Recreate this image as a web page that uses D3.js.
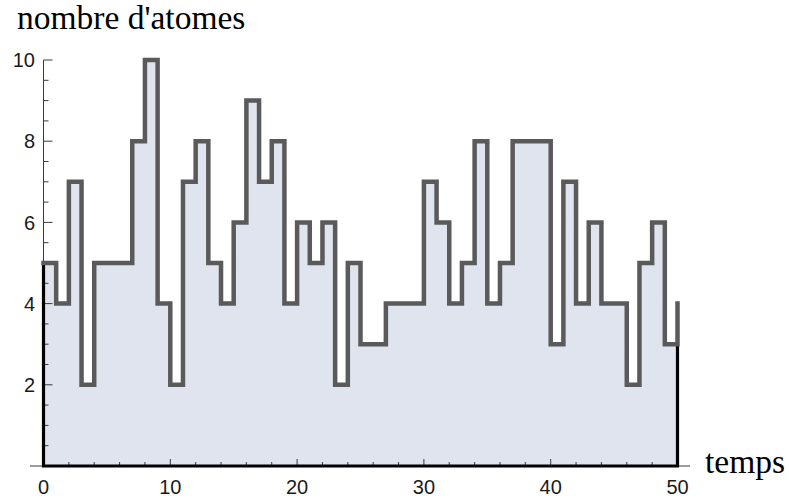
<!DOCTYPE html>
<html><head><meta charset="utf-8">
<script src="https://cdn.jsdelivr.net/npm/d3@7"></script>
<style>html,body{margin:0;padding:0;background:#fff;}svg{display:block;}</style>
</head><body>
<script>
// Data: number of atoms at each integer time step (step held until next time)
const times = d3.range(0, 51);
const atoms = [5,4,7,2,5,5,5,8,10,4,2,7,8,5,4,6,9,7,8,4,6,5,6,2,5,3,3,4,4,4,7,6,4,5,8,4,5,8,8,8,3,7,4,6,4,4,2,5,6,3,4];
const xMajorTicks = [0,10,20,30,40,50];
const yMajorTicks = [2,4,6,8,10];
const yTitle = "nombre d'atomes";
const xTitle = "temps";

const W = 789, H = 498;
const svg = d3.select("body").append("svg").attr("width", W).attr("height", H);

const x = d3.scaleLinear().domain([0, 50]).range([43.5, 677.5]);
const y = d3.scaleLinear().domain([0, 10]).range([466, 60]);

const data = times.map((t, i) => ({t, v: atoms[i]}));

// fill
const area = d3.area().curve(d3.curveStepAfter).x(d => x(d.t)).y0(y(0)).y1(d => y(d.v));
svg.append("path").datum(data).attr("d", area).attr("fill", "#dfe4ee");

// thin axes
const axisColor = "#3a3a3a";
svg.append("line").attr("x1", 30).attr("x2", 690).attr("y1", y(0)).attr("y2", y(0))
  .attr("stroke", axisColor).attr("stroke-width", 1);
svg.append("line").attr("x1", x(0)).attr("x2", x(0)).attr("y1", y(0)).attr("y2", y(10))
  .attr("stroke", axisColor).attr("stroke-width", 1);

// x ticks (inward)
const xMinor = d3.range(0, 51, 2).filter(v => !xMajorTicks.includes(v));
svg.append("g").selectAll("line").data(xMajorTicks).join("line")
  .attr("x1", d => x(d)).attr("x2", d => x(d)).attr("y1", y(0)).attr("y2", y(0) - 7)
  .attr("stroke", axisColor).attr("stroke-width", 1);
svg.append("g").selectAll("line").data(xMinor).join("line")
  .attr("x1", d => x(d)).attr("x2", d => x(d)).attr("y1", y(0)).attr("y2", y(0) - 4)
  .attr("stroke", axisColor).attr("stroke-width", 1);

// y ticks (inward)
const yMinor = d3.range(0.5, 10.01, 0.5).filter(v => !yMajorTicks.includes(v));
svg.append("g").selectAll("line").data(yMajorTicks).join("line")
  .attr("x1", x(0)).attr("x2", x(0) + 9).attr("y1", d => y(d)).attr("y2", d => y(d))
  .attr("stroke", axisColor).attr("stroke-width", 1);
svg.append("g").selectAll("line").data(yMinor).join("line")
  .attr("x1", x(0)).attr("x2", x(0) + 5).attr("y1", d => y(d)).attr("y2", d => y(d))
  .attr("stroke", axisColor).attr("stroke-width", 1);

// thick black filling border (left, bottom, right)
const first = data[0], lastSeg = data[data.length - 2], last = data[data.length - 1];
svg.append("path")
  .attr("d", `M${x(first.t)},${y(first.v)}L${x(first.t)},${y(0)}L${x(last.t)},${y(0)}L${x(last.t)},${y(lastSeg.v)}`)
  .attr("fill", "none").attr("stroke", "#000").attr("stroke-width", 3.2);

// step line
const line = d3.line().curve(d3.curveStepAfter).x(d => x(d.t)).y(d => y(d.v));
svg.append("path").datum(data).attr("d", line)
  .attr("fill", "none").attr("stroke", "#5a5a5a").attr("stroke-width", 4.5)
  .attr("stroke-linejoin", "miter").attr("stroke-linecap", "square");

// tick labels
const labelFont = "'Liberation Sans', Arial, sans-serif";
svg.append("g").selectAll("text").data(xMajorTicks).join("text")
  .attr("x", d => x(d)).attr("y", 494).attr("text-anchor", "middle")
  .attr("font-family", labelFont).attr("font-size", 20).attr("fill", "#1a1a1a")
  .text(d => d);
svg.append("g").selectAll("text").data(yMajorTicks).join("text")
  .attr("x", 35).attr("y", d => y(d)).attr("dy", "0.36em").attr("text-anchor", "end")
  .attr("font-family", labelFont).attr("font-size", 20).attr("fill", "#1a1a1a")
  .text(d => d);

// axis titles
const titleFont = "'Liberation Serif', 'Times New Roman', serif";
svg.append("text").attr("x", 17).attr("y", 29)
  .attr("font-family", titleFont).attr("font-size", 33.5).attr("fill", "#000").text(yTitle);
svg.append("text").attr("x", 705).attr("y", 473)
  .attr("font-family", titleFont).attr("font-size", 33.5).attr("fill", "#000").text(xTitle);
</script>
</body></html>
